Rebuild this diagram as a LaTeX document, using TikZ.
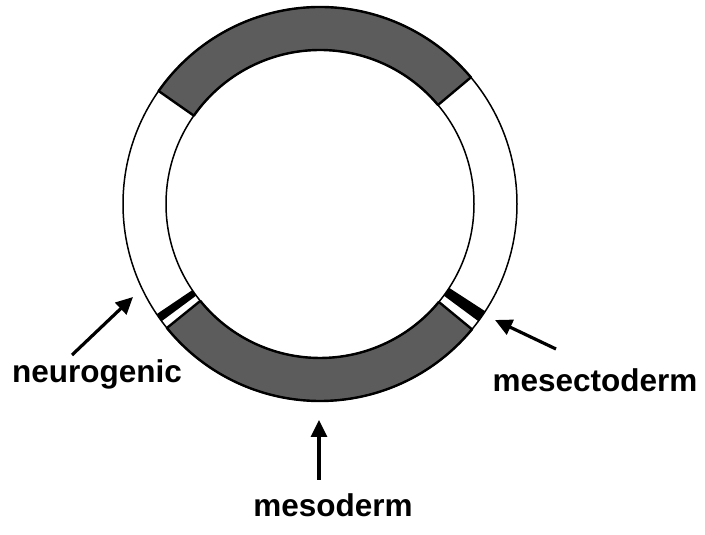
\documentclass[tikz,border=0pt]{standalone}
\usepackage{fontspec}
\setmainfont{Liberation Sans}
\usetikzlibrary{arrows.meta}
\definecolor{stipple}{gray}{0.36}
\newcommand{\rout}{197}
\newcommand{\rin}{154}
% annular sector of the ring: start angle, end angle, style
\newcommand{\bandseg}[3]{%
  \path[#3] (#1:\rout) arc[start angle=#1, end angle=#2, radius=\rout]
     -- (#2:\rin) arc[start angle=#2, end angle=#1, radius=\rin] -- cycle;}

\begin{document}
\begin{tikzpicture}[x=1pt, y=1pt,
    tissue/.style={fill=stipple, draw=black, line width=2.4pt, line join=round},
    bar/.style={fill=black},
    lbl/.style={font=\bfseries\fontsize{31.5}{36}\selectfont, anchor=base, inner sep=0pt},
    arr/.style={-{Triangle[length=17pt, width=16pt]}, line width=3.2pt}]
  \useasboundingbox (0,0) rectangle (705,535);
  % Anneau (coupe transversale)
  \begin{scope}[shift={(320,331)}]
    \bandseg{40}{145}{tissue}
    \bandseg{219}{320.5}{tissue}
    \bandseg{214}{216.5}{bar}
    \bandseg{323.5}{327}{bar}
    \draw[line width=1.5pt] (0,0) circle[radius=\rout];
    \draw[line width=1.5pt] (0,0) circle[radius=\rin];
  \end{scope}
  % Etiquettes
  \node[lbl] (neuro) at (97,152) {neurogenic};
  \node[lbl] (meso) at (333,18) {mesoderm};
  \node[lbl] (mesect) at (595,143) {mesectoderm};
  % Fleches
  \coordinate (neurotail) at (72,180);
  \coordinate (neurotip) at (133,238);
  \coordinate (mesotail) at (319,55);
  \coordinate (mesotip) at (319,115);
  \coordinate (mesecttail) at (556,186);
  \coordinate (mesecttip) at (495,215);
  \draw[arr] (neurotail) -- (neurotip);
  \draw[arr] (mesotail) -- (mesotip);
  \draw[arr] (mesecttail) -- (mesecttip);
\end{tikzpicture}
\end{document}
